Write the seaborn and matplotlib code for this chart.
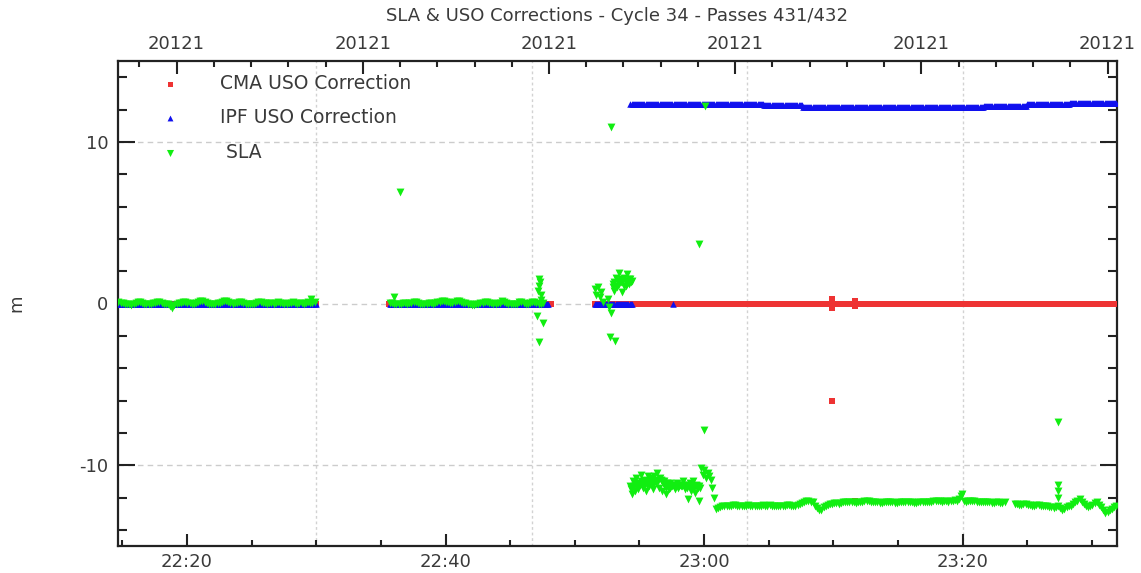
import numpy as np
import pandas as pd
import matplotlib
matplotlib.use("Agg")
import matplotlib.pyplot as plt
from matplotlib.ticker import MultipleLocator, FixedLocator, FuncFormatter
import seaborn as sns

nan = np.nan


def hms(s):
    h, m, sec = (int(v) for v in s.split(":"))
    return h * 60 + m + sec / 60.0


# ---- SLA (green), sampled every 10 s unless said otherwise
sla_a_start = "22:14:42"
sla_a = [0.1, 0.05, 0.05, 0.0, 0.0, -0.05, -0.1, 0.0, 0.05, 0.1,
         0.1, 0.05, 0.0, 0.0, -0.05, 0.0, 0.05, 0.05, 0.1, 0.1,
         0.05, 0.0, -0.05, -0.05, -0.15, -0.3, -0.1, 0.0, 0.05, 0.05,
         0.1, 0.1, 0.05, 0.05, 0.0, 0.0, 0.05, 0.1, 0.15, 0.15,
         0.1, 0.05, 0.0, 0.0, -0.05, 0.0, 0.05, 0.05, 0.1, 0.15,
         0.15, 0.1, 0.05, 0.0, 0.05, 0.05, 0.1, 0.1, 0.05, 0.0,
         0.0, -0.05, -0.05, 0.0, 0.05, 0.1, 0.1, 0.05, 0.05, 0.0,
         0.05, 0.05, 0.0, 0.05, 0.1, 0.05, 0.05, 0.0, 0.0, 0.05,
         0.05, 0.1, 0.05, 0.0, 0.05, 0.05, 0.0, 0.05, 0.1, 0.05,
         0.05, 0.1]
sla_b_start = "22:35:42"
sla_b = [0.05, 0.05, 0.0, 0.0, -0.05, 0.0, 0.05, 0.05, 0.0, 0.05,
         0.05, 0.1, 0.1, 0.05, 0.0, -0.05, -0.05, 0.0, 0.05, 0.05,
         0.0, 0.05, 0.1, 0.1, 0.15, 0.15, 0.1, 0.1, 0.05, 0.05,
         0.1, 0.15, 0.15, 0.1, 0.05, 0.05, 0.0, 0.0, -0.1, -0.1,
         0.0, 0.0, 0.05, 0.05, 0.1, 0.1, 0.05, 0.05, 0.0, 0.0,
         0.05, 0.05, 0.15, 0.1, 0.05, 0.0, 0.0, -0.05, -0.05, 0.0,
         0.1, 0.1, 0.05, 0.0, 0.0, 0.05, 0.1, 0.1, 0.05, 0.0,
         0.0, 0.05]
# 7.5 s sampling, two interleaved passes through the noisy parts
sla_hi_start = "22:51:33"
sla_hi = [0.9, 0.5, 1.0, 0.4, 0.7, 0.1, nan, nan, 0.3, -0.2,
          -0.6, 1.2, 0.8, 1.6, 1.0, 1.9, 1.3, 0.7, 1.6, 1.1,
          1.8, 1.2, 1.5]
sla_hi2_start = "22:52:56"
sla_hi2 = [1.0, 1.3, 1.1, 1.4, 1.2, 1.5, 1.3, 1.1, 1.4, 1.2, 1.5, 1.3, 1.4]
sla_lo_start = "22:54:16"
sla_lo = [-11.3, -11.8, -11.0, -11.6, -10.8, -11.5, -11.2, -10.6, -11.4, -10.9,
          -11.6, -10.7, -11.3, -10.8, -11.5, -10.7, -11.1, -10.5, -11.4, -10.9,
          -11.6, -11.0, -11.8, -11.1, -11.5, -11.1, -11.3, -11.2, -11.5, -11.1,
          -11.4, -11.2, -11.3, -11.0, -11.5, -11.2, -12.1, -11.1, -11.6, -11.0,
          -11.7, -11.2, -11.4, -12.2, -10.2, -10.6, -10.3, -10.8, -10.5, -10.7,
          -10.9, -11.4, -12.0, -12.7]
sla_lo2_start = "22:54:20"
sla_lo2 = [-11.5, -11.4, -11.3, -11.2, -11.1, -11.2, -11.0, -11.1, -11.2, -11.1,
           -11.2, -11.1, -11.0, -11.1, -11.2, -11.0, -10.9, -11.0, -10.8, -11.0,
           -11.1, -11.3, -11.4, -11.3, -11.4, -11.3, -11.2, -11.3, -11.3, -11.2,
           -11.3, -11.3, -11.2, -11.3, -11.3, -11.4, -11.3, -11.4, -11.3, -11.4,
           -11.3, -11.3, -11.3, -11.4]
# 10 s sampling
sla_d_start = "23:01:04"
sla_d = [-12.65, -12.6, -12.5, -12.5, -12.55, -12.5, -12.5, -12.45, -12.45, -12.5,
         -12.5, -12.55, -12.5, -12.5, -12.45, -12.5, -12.5, -12.55, -12.55, -12.5,
         -12.5, -12.45, -12.5, -12.5, -12.45, -12.5, -12.5, -12.5, -12.55, -12.55,
         -12.5, -12.5, -12.45, -12.45, -12.5, -12.5, -12.5, -12.45, -12.4, -12.35,
         -12.3, -12.2, -12.2, -12.25, -12.3, -12.5, -12.65, -12.8, -12.75, -12.6,
         -12.5, -12.45, -12.4, -12.4, -12.35, -12.35, -12.4, -12.35, -12.3, -12.3,
         -12.25, -12.25, -12.3, -12.3, -12.35, -12.3, -12.3, -12.25, -12.2, -12.2,
         -12.2, -12.25, -12.3, -12.3, -12.3, -12.35, -12.35, -12.3, -12.3, -12.3,
         -12.3, -12.3, -12.35, -12.35, -12.3, -12.3, -12.25, -12.25, -12.3, -12.3,
         -12.3, -12.35, -12.35, -12.3, -12.3, -12.25, -12.25, -12.3, -12.3, -12.25,
         -12.2, -12.2, -12.2, -12.2, -12.25, -12.2, -12.2, -12.25, -12.2, -12.2,
         -12.15, -12.2, -12.1, -11.9, -12.2, -12.25, -12.2, -12.2, -12.2, -12.2,
         -12.25, -12.25, -12.3, -12.3, -12.3, -12.3, -12.3, -12.35, -12.35, -12.3,
         -12.3, -12.35, -12.35, -12.3]
sla_e_start = "23:24:02"
sla_e = [-12.4, -12.4, -12.45, -12.45, -12.4, -12.4, -12.45, -12.45, -12.5, -12.5,
         -12.45, -12.45, -12.5, -12.5, -12.55, -12.55, -12.6, -12.6, -12.65, -12.6,
         -12.55, -12.65, -12.75, -12.7, -12.6, -12.55, -12.5, -12.4, -12.3, -12.2,
         -12.1, -12.25, -12.4, -12.5, -12.6, -12.55, -12.45, -12.35, -12.3, -12.45,
         -12.6, -12.8, -12.95, -12.9, -12.8, -12.7, -12.6, -12.55]
sla_out_t = ["22:29:36", "22:36:00", "22:36:28", "22:47:09", "22:47:12", "22:47:15",
             "22:47:18", "22:47:21", "22:47:24", "22:47:06", "22:47:33", "22:47:15",
             "22:52:47", "22:52:44", "22:53:05", "22:59:36", "22:59:59", "23:00:04",
             "23:19:57", "23:27:22", "23:27:22", "23:27:22", "23:27:22"]
sla_out_v = [0.3, 0.4, 6.9, 0.75, 1.1, 1.5,
             1.3, 0.5, 0.2, -0.75, -1.2, -2.4,
             10.9, -2.1, -2.3, 3.7, -7.8, 12.2,
             -11.8, -7.3, -11.2, -11.6, -12.0]

# ---- IPF USO correction (blue), 5 s sampling
ipf_zero_starts = ["22:14:42", "22:35:42", "22:51:33", "22:52:29", "22:57:35"]
ipf_zero_counts = [184, 148, 12, 24, 1]
ipf_hi_start = "22:54:18"
ipf_hi = ([12.36] * 68 + [12.32] * 56 + [12.27] * 36 + [12.17] * 168
          + [12.24] * 40 + [12.34] * 40 + [12.42] * 44)

# ---- CMA USO correction (red), 5 s sampling
cma_zero_starts = ["22:14:42", "22:35:36", "22:51:33", "22:52:29"]
cma_zero_counts = [184, 152, 12, 472]
cma_out_t = ["23:09:53", "23:09:53", "23:09:53", "23:11:40", "23:11:40", "23:11:40"]
cma_out_v = [0.3, -0.3, -6.0, 0.15, -0.15, -12.2]

# axis ranges / decorations
x_start, x_end = "22:14:40", "23:31:56"
top_day_fracs = [0.93, 0.94, 0.95, 0.96, 0.97, 0.98]
grid_times = ["22:30:00", "22:46:40", "23:03:20", "23:20:00"]


def track(start, step_s, values):
    t0 = hms(start)
    return pd.DataFrame({"t": t0 + np.arange(len(values)) * step_s / 60.0,
                         "v": values}).dropna()


def points(times, values):
    return pd.DataFrame({"t": [hms(s) for s in times], "v": values})


sla = pd.concat([track(sla_a_start, 10, sla_a), track(sla_b_start, 10, sla_b),
                 track(sla_hi_start, 7.5, sla_hi), track(sla_hi2_start, 7.5, sla_hi2),
                 track(sla_lo_start, 7.5, sla_lo), track(sla_lo2_start, 7.5, sla_lo2),
                 track(sla_d_start, 10, sla_d), track(sla_e_start, 10, sla_e),
                 points(sla_out_t, sla_out_v)])
ipf = pd.concat([track(s, 5, [0.0] * n) for s, n in zip(ipf_zero_starts, ipf_zero_counts)]
                + [track(ipf_hi_start, 5, ipf_hi)])
cma = pd.concat([track(s, 5, [0.0] * n) for s, n in zip(cma_zero_starts, cma_zero_counts)]
                + [points(cma_out_t, cma_out_v)])

sns.set_style("white")
plt.rcParams["font.family"] = ["DejaVu Sans"]
plt.rcParams["axes.unicode_minus"] = False
txt = "#3a3a3a"

fig = plt.figure(figsize=(11.41, 5.73), dpi=100)
ax = fig.add_axes([118 / 1141, 1 - 546 / 573, 999 / 1141, 485 / 573])

for tt in grid_times:
    ax.axvline(hms(tt), color="#d2d2d2", lw=1, ls=(0, (2, 2)), zorder=0)

sns.scatterplot(data=cma, x="t", y="v", color="#ee3333", marker="s", s=16,
                linewidth=0, label="CMA USO Correction", ax=ax, zorder=3)
sns.scatterplot(data=ipf, x="t", y="v", color="#1010ee", marker="^", s=22,
                linewidth=0, label="IPF USO Correction", ax=ax, zorder=4)
sns.scatterplot(data=sla, x="t", y="v", color="#11ee11", marker="v", s=32,
                linewidth=0, label=" SLA", ax=ax, zorder=5)

ax.set_xlim(hms(x_start), hms(x_end))
ax.set_ylim(-15, 15)
ax.set_xlabel("")
ax.set_ylabel("")

ax.xaxis.set_major_locator(MultipleLocator(20))
ax.xaxis.set_minor_locator(MultipleLocator(5))
ax.xaxis.set_major_formatter(FuncFormatter(
    lambda x, p: f"{int(round(x)) // 60}:{int(round(x)) % 60:02d}"))
ax.yaxis.set_major_locator(MultipleLocator(10))
ax.yaxis.set_minor_locator(MultipleLocator(2))
ax.yaxis.set_major_formatter(FuncFormatter(lambda y, p: f"{int(round(y))}"))
ax.yaxis.grid(True, which="major", color="#cccccc", lw=1, ls=(0, (4, 3)), zorder=0)
ax.set_axisbelow(True)

ax.tick_params(axis="x", which="both", direction="in", top=False, bottom=True,
               labelsize=13, labelcolor=txt, pad=5, width=1.5, color="#222222")
ax.tick_params(axis="x", which="major", length=9)
ax.tick_params(axis="x", which="minor", length=4.5)
ax.tick_params(axis="y", which="both", direction="in", left=True, right=True,
               labelsize=13, labelcolor=txt, pad=7, width=1.5, color="#222222")
ax.tick_params(axis="y", which="major", length=12)
ax.tick_params(axis="y", which="minor", length=6.5)

for sp in ax.spines.values():
    sp.set_visible(True)
    sp.set_linewidth(1.6)
    sp.set_color("#222222")

ax2 = ax.twiny()
ax2.set_xlim(ax.get_xlim())
ax2.xaxis.set_major_locator(FixedLocator([f * 1440 for f in top_day_fracs]))
ax2.xaxis.set_minor_locator(MultipleLocator(0.002 * 1440))
ax2.set_xticklabels(["20121"] * len(top_day_fracs))
ax2.tick_params(axis="x", which="both", direction="in", labelsize=13,
                labelcolor=txt, pad=6, width=1.5, color="#222222")
ax2.tick_params(axis="x", which="major", length=9)
ax2.tick_params(axis="x", which="minor", length=4.5)
for sp in ax2.spines.values():
    sp.set_visible(False)

ax.legend(loc="upper left", bbox_to_anchor=(0.0165, 1.008), frameon=False,
          fontsize=13.5, handletextpad=1.65, handlelength=2.0, labelspacing=0.82,
          labelcolor=txt, borderpad=0.4, markerscale=0.9)

fig.text(617.5 / 1141, 1 - 16 / 573, "SLA & USO Corrections - Cycle 34 - Passes 431/432",
         ha="center", va="center", fontsize=13, color=txt)
fig.text(16 / 1141, 1 - 303 / 573, "m", rotation=90, ha="center", va="center",
         fontsize=13, color=txt)

fig.savefig("out.png", dpi=100)
